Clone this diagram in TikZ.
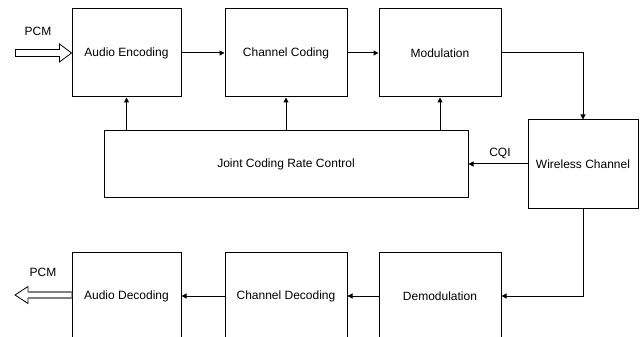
\documentclass[tikz,border=0pt]{standalone}
\usepackage{fontspec}
\setmainfont{Liberation Sans}
\usetikzlibrary{arrows.meta}
\begin{document}
\begin{tikzpicture}[x=1pt,y=-1pt,
  every node/.style={font=\fontsize{12}{14}\selectfont},
  block/.style={draw=black, line width=1pt, fill=white, inner sep=0pt,
    minimum height=88pt},
  link/.style={draw=black, line width=1pt,
    -{Triangle[length=5pt,width=5pt]}},
  hollow/.style={draw=black, line width=0.8pt, fill=white, line join=miter}
]
\useasboundingbox (0,0) rectangle (641,337);
\clip (0,0) rectangle (641,337);
\fill[white] (0,0) rectangle (641,337);

% transmitter chain
\node[block, minimum width=109pt] (ae) at (126.5,53) {Audio Encoding};
\node[block, minimum width=122pt] (cc) at (286,53) {Channel Coding};
\node[block, minimum width=122pt] (mod) at (440,53) {Modulation};

% rate control and channel
\node[block, minimum width=364pt, minimum height=66pt] (jc) at (286,164) {Joint Coding Rate Control};
\node[block, minimum width=110pt] (wc) at (583,164) {Wireless Channel};

% receiver chain
\node[block, minimum width=109pt] (ad) at (126.5,296) {Audio Decoding};
\node[block, minimum width=122pt] (cd) at (286,296) {Channel Decoding};
\node[block, minimum width=122pt] (dem) at (440,296) {Demodulation};

% forward links
\draw[link] (ae.east) -- (cc.west);
\draw[link] (cc.east) -- (mod.west);
\draw[link] (mod.east) -| (wc.north);
\draw[link] (wc.west) -- node[above=1pt, xshift=2pt] {CQI} (jc.east);
\draw[link] (wc.south) |- (dem.east);
\draw[link] (dem.west) -- (cd.east);
\draw[link] (cd.west) -- (ad.east);

% rate control feedback
\draw[link] (jc.north -| ae.south) -- (ae.south);
\draw[link] (jc.north -| cc.south) -- (cc.south);
\draw[link] (jc.north -| mod.south) -- (mod.south);

% PCM input arrow
\draw[hollow] (ae.west) -- ++(-12,-9) -- ++(0,5.5) -- ++(-44,0) -- ++(0,7)
  -- ++(44,0) -- ++(0,5.5) -- cycle;
\node (pcmin) at (38,31) {PCM};

% PCM output arrow
\coordinate (outtip) at (15,295);
\draw[hollow] (outtip) -- ++(13,-8.5) -- ++(0,5.5) -- ++(44,0) -- ++(0,6)
  -- ++(-44,0) -- ++(0,5.5) -- cycle;
\draw[gray, line width=1.3pt] (28,292) -- (71.5,292) (28,298) -- (71.5,298);
\node (pcmout) at (43,272) {PCM};
\end{tikzpicture}
\end{document}
